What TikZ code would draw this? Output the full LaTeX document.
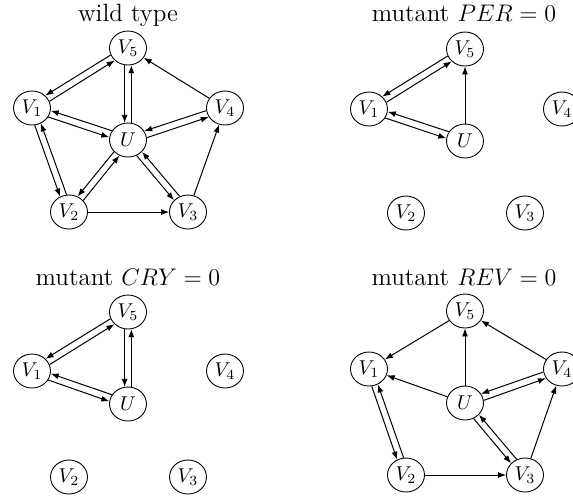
\documentclass[tikz,border=0pt]{standalone}
\usetikzlibrary{shapes.geometric,arrows.meta,calc}
\tikzset{
 vx/.style={draw, ellipse, line width=0.45pt, inner sep=0pt, minimum width=18.5pt, minimum height=17pt, font=\normalsize},
 con/.style={-{Latex[length=4pt,width=3pt]}, line width=0.5pt},
 ttl/.style={anchor=base, font=\fontsize{12.5}{15}\selectfont},
}
\newcommand{\duoarrow}[2]{\draw[con] let \p1=($(#2)-(#1)$), \n1={atan2(\y1,\x1)}, \n2={\n1-11}, \n3={\n1+191} in (#1.\n2) -- (#2.\n3);}
\begin{document}
\begin{tikzpicture}[x=0.5pt,y=-0.5pt]
\useasboundingbox (0,0) rectangle (573,495);
\clip (0,0) rectangle (573,495);

% ---------- wild type
\node[ttl] (ta) at (128,21) {wild type};
\begin{scope}[shift={(128,48)}]
 \node[vx] (a5) at (0,0) {$V_5$};
 \node[vx] (a1) at (-96,60) {$V_1$};
 \node[vx] (a4) at (97,60) {$V_4$};
 \node[vx] (au) at (0,92) {$U$};
 \node[vx] (a2) at (-59,164) {$V_2$};
 \node[vx] (a3) at (60,164) {$V_3$};
\end{scope}
\duoarrow{a5}{a1}\duoarrow{a1}{a5}
\duoarrow{a5}{au}\duoarrow{au}{a5}
\draw[con] (a4) -- (a5);
\duoarrow{au}{a1}\duoarrow{a1}{au}
\duoarrow{a4}{au}\duoarrow{au}{a4}
\duoarrow{a1}{a2}\duoarrow{a2}{a1}
\duoarrow{au}{a2}\duoarrow{a2}{au}
\duoarrow{au}{a3}\duoarrow{a3}{au}
\draw[con] (a2) -- (a3);
\draw[con] (a3) -- (a4);

% ---------- PER = 0
\node[ttl] (tb) at (464,21) {mutant $PER=0$};
\begin{scope}[shift={(465,49)}]
 \node[vx] (b5) at (0,0) {$V_5$};
 \node[vx] (b1) at (-96,60) {$V_1$};
 \node[vx] (b4) at (97,60) {$V_4$};
 \node[vx] (bu) at (0,92) {$U$};
 \node[vx] (b2) at (-59,164) {$V_2$};
 \node[vx] (b3) at (60,164) {$V_3$};
\end{scope}
\duoarrow{b5}{b1}\duoarrow{b1}{b5}
\duoarrow{bu}{b1}\duoarrow{b1}{bu}
\draw[con] (bu) -- (b5);

% ---------- CRY = 0
\node[ttl] (tc) at (128,285) {mutant $CRY=0$};
\begin{scope}[shift={(128,312)}]
 \node[vx] (c5) at (0,0) {$V_5$};
 \node[vx] (c1) at (-96,59) {$V_1$};
 \node[vx] (c4) at (97,59) {$V_4$};
 \node[vx] (cu) at (0,92) {$U$};
 \node[vx] (c2) at (-59,165) {$V_2$};
 \node[vx] (c3) at (60,165) {$V_3$};
\end{scope}
\duoarrow{c5}{c1}\duoarrow{c1}{c5}
\duoarrow{c5}{cu}\duoarrow{cu}{c5}
\duoarrow{cu}{c1}\duoarrow{c1}{cu}

% ---------- REV = 0
\node[ttl] (td) at (464,285) {mutant $REV=0$};
\begin{scope}[shift={(465,311)}]
 \node[vx] (d5) at (0,0) {$V_5$};
 \node[vx] (d1) at (-96,58) {$V_1$};
 \node[vx] (d4) at (97,58) {$V_4$};
 \node[vx] (du) at (0,92) {$U$};
 \node[vx] (d2) at (-59,164) {$V_2$};
 \node[vx] (d3) at (60,164) {$V_3$};
\end{scope}
\draw[con] (d5) -- (d1);
\draw[con] (du) -- (d5);
\draw[con] (du) -- (d1);
\draw[con] (d4) -- (d5);
\duoarrow{du}{d4}\duoarrow{d4}{du}
\duoarrow{d1}{d2}\duoarrow{d2}{d1}
\duoarrow{du}{d3}\duoarrow{d3}{du}
\draw[con] (d2) -- (d3);
\draw[con] (d3) -- (d4);
\end{tikzpicture}
\end{document}
